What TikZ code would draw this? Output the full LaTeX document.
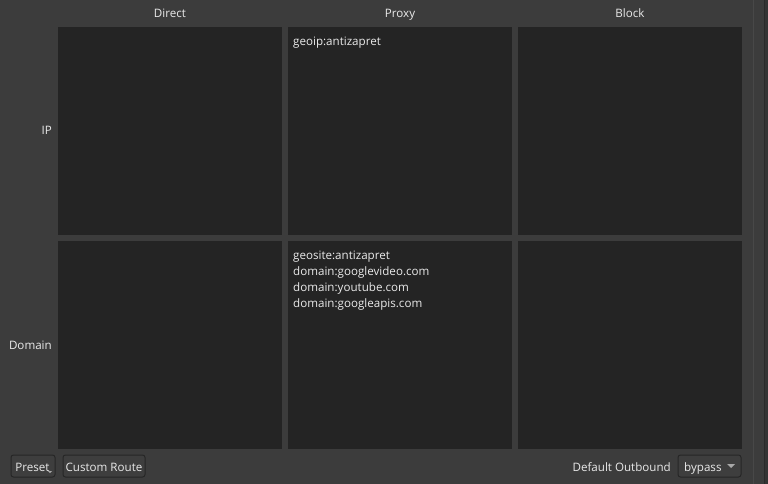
\documentclass[tikz,border=0pt]{standalone}
\usepackage{fontspec}
\setmainfont{Open Sans}
\definecolor{bg}{HTML}{3C3C3C}
\definecolor{cellbg}{HTML}{242424}
\definecolor{fg}{HTML}{EAEAEA}
\definecolor{btnborder}{HTML}{262626}
\definecolor{btnfill}{HTML}{3E3E3E}
\definecolor{arrowc}{HTML}{A8A8A8}
\tikzset{
  cell/.style={fill=cellbg, draw=none, minimum width=224pt, minimum height=208pt, inner sep=0pt, outer sep=0pt},
  txt/.style={text=fg, inner sep=0pt, font=\fontsize{11.6}{16}\selectfont},
  colhead/.style={txt, anchor=base},
  rowlabel/.style={txt, anchor=base east},
  entry/.style={txt, anchor=base west, align=left},
  btn/.style={draw=btnborder, fill=btnfill, rounded corners=2.5pt, line width=1pt, inner sep=0pt, minimum height=22pt},
  tri/.style={fill=arrowc, draw=none}
}
\begin{document}
\begin{tikzpicture}[x=1pt,y=-1pt]
\fill[bg] (0,0) rectangle (768,484);
\useasboundingbox (0,0) rectangle (768,484);
% right side frame lines
\fill[color={rgb,255:red,72;green,72;blue,72}] (753,0) rectangle (754,484);
\fill[color={rgb,255:red,42;green,42;blue,42}] (764,0) rectangle (765,484);
\fill[color={rgb,255:red,52;green,52;blue,52}] (765,0) rectangle (768,484);
% cells
\node[cell] (c11) at (170,131) {};
\node[cell] (c12) at (400,131) {};
\node[cell] (c13) at (630,131) {};
\node[cell] (c21) at (170,344.5) {};
\node[cell] (c22) at (400,344.5) {};
\node[cell] (c23) at (630,344.5) {};
% headers
\node[colhead] (hdirect) at (170,18) {Direct};
\node[colhead] (hproxy) at (400,18) {Proxy};
\node[colhead] (hblock) at (630,18) {Block};
\node[rowlabel] (lip) at (52,135) {IP};
\node[rowlabel] (ldomain) at (52,349.5) {Domain};
% entries
\node[entry] (e12) at (293,45.5) {geoip:antizapret};
\node[entry] (e22a) at (293,259.5) {geosite:antizapret};
\node[entry] (e22b) at (293,275.5) {domain:googlevideo.com};
\node[entry] (e22c) at (293,291.5) {domain:youtube.com};
\node[entry] (e22d) at (293,307) {domain:googleapis.com};
% buttons
\node[btn, minimum width=44pt] (preset) at (33,466) {};
\node[txt, anchor=base] (presett) at (32.5,471) {Preset};
\fill[tri] (48,471) -- (52,471) -- (50,473) -- cycle;
\node[btn, minimum width=82pt] (custom) at (104,466) {};
\node[txt, anchor=base] (customt) at (104,471) {Custom Route};
\node[txt, anchor=base east] (defout) at (671,471) {Default Outbound};
\node[btn, minimum width=63pt] (combo) at (709.5,466) {};
\node[txt, anchor=base west] (combot) at (684,471) {bypass};
\fill[tri] (727,464) -- (735,464) -- (731,468) -- cycle;
\end{tikzpicture}
\end{document}
